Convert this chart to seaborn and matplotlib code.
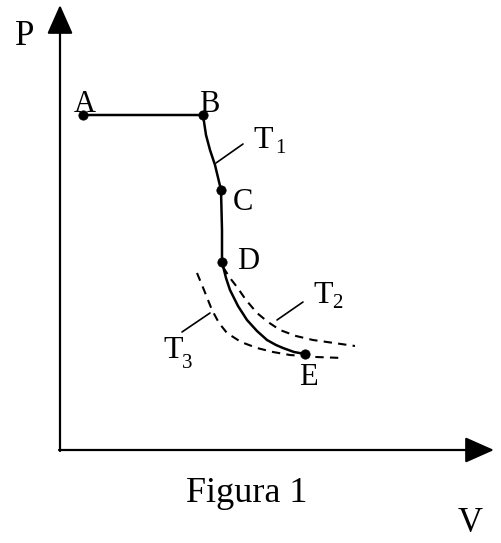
"""
P-V diagram (Figura 1) redrawn with seaborn on a pixel-like coordinate grid.
"""

import matplotlib
matplotlib.use("Agg")
import matplotlib.pyplot as plt
import seaborn as sns

# Points (x to the right, y downwards)
points_name = ['A', 'B', 'C', 'D', 'E']
points_x = [83, 203, 221, 222, 305]
points_y = [115, 115, 190, 262, 354]

# Solid path A-B-C-D-E
path_x = [83, 203, 206, 210, 215, 221, 222, 222, 226, 230, 238, 247, 257, 267, 276, 283, 294, 305]
path_y = [115, 115, 135, 150, 165, 190, 230, 262, 278, 290, 306, 320, 331, 340, 345, 348, 352, 354]

# Dashed isotherms T2 and T3
t2_x = [223, 230, 237, 246, 257, 268, 280, 296, 313, 334, 355]
t2_y = [267, 278, 287, 300, 313, 322, 330, 336, 340, 343, 346]
t3_x = [197, 204, 212, 219, 227, 241, 257, 273, 290, 316, 343]
t3_y = [273, 290, 310, 323, 333, 342, 348, 352, 355, 357, 358]

# Leader lines to the labels
leaders = {
    'T1': ([216, 243], [163, 144]),
    'T2': ([277, 303], [320, 302]),
    'T3': ([210, 182], [313, 332]),
}

sns.set_theme(style='white')
plt.rcParams['font.family'] = ['Liberation Serif', 'DejaVu Serif']
plt.rcParams['text.color'] = 'black'

fig = plt.figure(figsize=(5.02, 5.43), dpi=100)
ax = fig.add_axes([0, 0, 1, 1])
ax.set_xlim(0, 502)
ax.set_ylim(543, 0)
ax.axis('off')

# Axes with arrows
arrow = dict(arrowstyle='-|>,head_length=0.9,head_width=0.4', lw=1.6,
             color='black', mutation_scale=20, shrinkA=0, shrinkB=0)
ax.annotate('', xy=(60, 5), xytext=(60, 451), arrowprops=arrow)
ax.annotate('', xy=(494, 450), xytext=(59, 450), arrowprops=arrow)

sns.lineplot(x=path_x, y=path_y, sort=False, estimator=None, ax=ax,
             color='black', lw=1.8)
sns.lineplot(x=t2_x, y=t2_y, sort=False, estimator=None, ax=ax,
             color='black', lw=1.5, linestyle=(0, (4, 3)))
sns.lineplot(x=t3_x, y=t3_y, sort=False, estimator=None, ax=ax,
             color='black', lw=1.5, linestyle=(0, (4, 3)))
for lx, ly in leaders.values():
    sns.lineplot(x=lx, y=ly, sort=False, estimator=None, ax=ax,
                 color='black', lw=1.2)

sns.scatterplot(x=points_x, y=points_y, ax=ax, color='black', s=45,
                edgecolor='black', zorder=5)

# Point labels (centre x, baseline y)
label_pos = {'A': (85, 112), 'B': (209, 112), 'C': (243, 210),
             'D': (248, 269), 'E': (308, 385)}
for name in points_name:
    ax.text(*label_pos[name], name, fontsize=22, ha='center', va='baseline',
            color='black')

# Isotherm labels: T with subscript (left x, baseline y)
iso_labels = [('1', 253, 148, 275, 153), ('2', 313, 303, 332, 308),
              ('3', 163, 358, 182, 368)]
for sub, tx, ty, sx, sy in iso_labels:
    ax.text(tx, ty, 'T', fontsize=23, ha='left', va='baseline', color='black')
    ax.text(sx, sy, sub, fontsize=15, ha='left', va='baseline', color='black')

ax.text(25, 45, 'P', fontsize=25, ha='center', va='baseline', color='black')
ax.text(470, 532, 'V', fontsize=25, ha='center', va='baseline', color='black')
ax.text(247, 502, 'Figura 1', fontsize=26, ha='center', va='baseline',
        color='black')

fig.savefig('out.png', dpi=100)
